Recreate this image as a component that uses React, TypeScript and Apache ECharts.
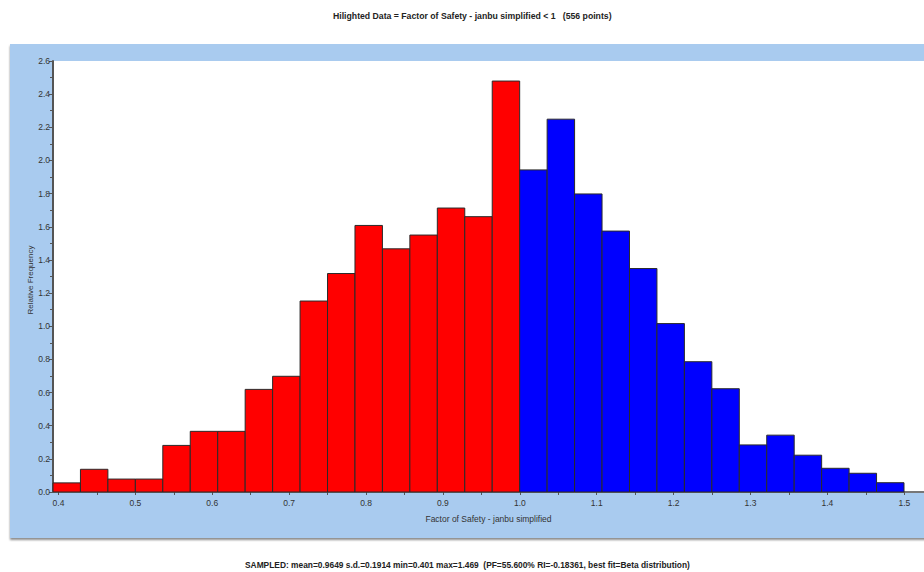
import React, { useEffect, useRef } from "react";
import * as echarts from "echarts";

const titleText = "Hilighted Data = Factor of Safety - janbu simplified < 1   (556 points)";
const footerText =
  "SAMPLED: mean=0.9649 s.d.=0.1914 min=0.401 max=1.469  (PF=55.600% RI=-0.18361, best fit=Beta distribution)";
const xName = "Factor of Safety - janbu simplified";
const yName = "Relative Frequency";

const binStart = 0.3929;
const binWidth = 0.0357;

// relative frequency of highlighted bins (FS < 1)
const redValues = [
  0.055, 0.137, 0.078, 0.078, 0.281, 0.366, 0.366, 0.619, 0.698, 1.152, 1.318,
  1.608, 1.467, 1.55, 1.713, 1.661, 2.479,
];
// relative frequency of remaining bins (FS >= 1)
const blueValues = [
  1.943, 2.249, 1.798, 1.574, 1.348, 1.016, 0.786, 0.623, 0.284, 0.343, 0.222,
  0.143, 0.113, 0.056,
];

const xTickLabels = [0.4, 0.5, 0.6, 0.7, 0.8, 0.9, 1.0, 1.1, 1.2, 1.3, 1.4, 1.5];
const xTicks = [
  0.4, 0.45, 0.5, 0.55, 0.6, 0.65, 0.7, 0.75, 0.8, 0.85, 0.9, 0.95, 1.0, 1.05,
  1.1, 1.15, 1.2, 1.25, 1.3, 1.35, 1.4, 1.45, 1.5,
];

const FONT = "Liberation Sans, Arial, sans-serif";

export default function App() {
  const ref = useRef<HTMLDivElement>(null);
  useEffect(() => {
    if (!ref.current) return;
    const chart = echarts.init(ref.current, null, { renderer: "svg" });

    const redData = redValues.map((v, i) => [
      binStart + i * binWidth,
      binStart + (i + 1) * binWidth,
      v,
    ]);
    const blueData = blueValues.map((v, i) => {
      const k = i + redValues.length;
      return [binStart + k * binWidth, binStart + (k + 1) * binWidth, v];
    });

    const renderItem = (color: string) => (params: any, api: any) => {
      const x0 = api.value(0);
      const x1 = api.value(1);
      const y = api.value(2);
      const p0 = api.coord([x0, 0]);
      const p1 = api.coord([x1, y]);
      return {
        type: "rect",
        shape: {
          x: p0[0],
          y: p1[1],
          width: p1[0] - p0[0],
          height: p0[1] - p1[1],
        },
        style: { fill: color, stroke: "#2a2a2a", lineWidth: 1 },
      };
    };

    chart.setOption({
      animation: false,
      backgroundColor: "#ffffff",
      textStyle: { fontFamily: FONT },
      graphic: [
        {
          type: "rect",
          z: -10,
          shape: { x: 10, y: 44, width: 930, height: 494 },
          style: {
            fill: "#a9cbef",
            shadowColor: "rgba(0,0,0,0.45)",
            shadowOffsetY: 2,
            shadowBlur: 2,
          },
        },
        {
          type: "text",
          left: 333,
          top: 11,
          style: {
            text: titleText,
            fontSize: 8.7,
            fontWeight: "bold",
            fontFamily: FONT,
            fill: "#222",
          },
        },
        {
          type: "text",
          left: 245,
          top: 561,
          style: {
            text: footerText,
            fontSize: 8.4,
            fontWeight: "bold",
            fontFamily: FONT,
            fill: "#222",
          },
        },
        {
          type: "text",
          x: 30,
          y: 280,
          rotation: Math.PI / 2,
          style: {
            text: yName,
            fontSize: 8,
            fontFamily: FONT,
            fill: "#333",
            align: "center",
            verticalAlign: "middle",
          },
        },
      ],
      grid: {
        left: 53,
        top: 61,
        right: 0,
        bottom: 80,
        show: true,
        backgroundColor: "#ffffff",
        borderWidth: 0,
        containLabel: false,
      },
      xAxis: {
        type: "value",
        min: 0.3929,
        max: 1.5256,
        name: xName,
        nameLocation: "middle",
        nameGap: 22,
        nameTextStyle: { fontSize: 8.5, color: "#333", fontFamily: FONT },
        axisLine: { show: true, lineStyle: { color: "#777", width: 2 } },
        axisTick: {
          show: true,
          length: 3,
          customValues: xTicks,
          lineStyle: { color: "#555" },
        },
        axisLabel: {
          customValues: xTickLabels,
          formatter: (v: number) => v.toFixed(1),
          fontSize: 8.5,
          color: "#333",
          margin: 6,
          fontFamily: FONT,
        },
        splitLine: { show: false },
      },
      yAxis: {
        type: "value",
        min: 0,
        max: 2.6,
        interval: 0.2,
        axisLine: { show: true, lineStyle: { color: "#555", width: 2 } },
        axisTick: { show: true, length: 4, lineStyle: { color: "#555" } },
        minorTick: { show: true, splitNumber: 2, length: 3, lineStyle: { color: "#555" } },
        axisLabel: {
          formatter: (v: number) => v.toFixed(1),
          fontSize: 8.5,
          color: "#333",
          margin: 3,
          fontFamily: FONT,
        },
        splitLine: { show: false },
      },
      series: [
        {
          type: "custom",
          name: "FS < 1",
          renderItem: renderItem("#ff0000"),
          encode: { x: [0, 1], y: 2 },
          data: redData,
        },
        {
          type: "custom",
          name: "FS >= 1",
          renderItem: renderItem("#0000ff"),
          encode: { x: [0, 1], y: 2 },
          data: blueData,
        },
      ],
    });
    return () => chart.dispose();
  }, []);
  return (
    <div
      ref={ref}
      style={{ position: "fixed", left: 0, top: 0, width: 924, height: 572 }}
    />
  );
}
